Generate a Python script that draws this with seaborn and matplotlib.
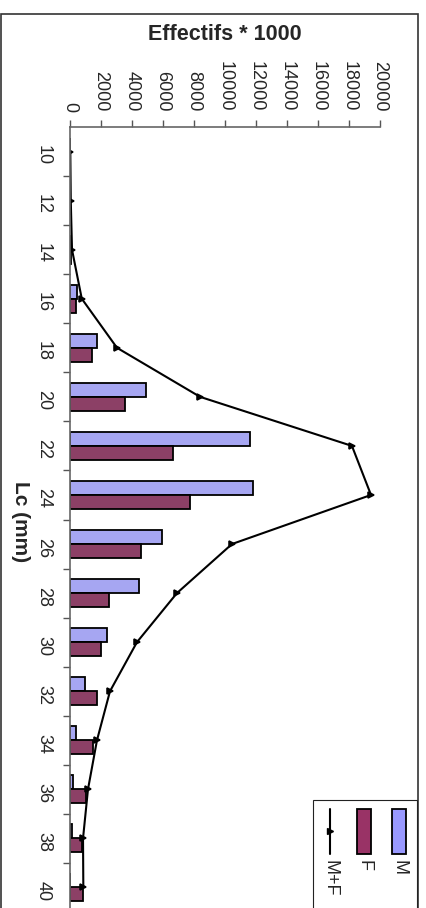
import matplotlib.pyplot as plt
import matplotlib.patches as mpatches
import matplotlib.lines as mlines
import numpy as np
import pandas as pd
import seaborn as sns

# Data (Lc classes in mm, counts * 1000)
sizes = ["10", "12", "14", "16", "18", "20", "22", "24", "26", "28", "30", "32", "34", "36", "38", "40"]
m_vals = [0, 0, 60, 450, 1740, 4900, 11600, 11800, 5940, 4450, 2390, 970, 390, 190, 130, 0]
f_vals = [0, 0, 60, 390, 1420, 3550, 6650, 7740, 4580, 2510, 2000, 1740, 1480, 1030, 775, 820]
mf_vals = [20, 50, 130, 760, 3030, 8390, 18190, 19420, 10450, 6900, 4320, 2580, 1740, 1160, 840, 860]
series = ["M", "F", "M+F"]
x_ticks = list(range(0, 20001, 2000))

colors = {"M": "#9999FF", "F": "#993366"}

df_bars = pd.DataFrame({
    "size": sizes * 2,
    "value": m_vals + f_vals,
    "sex": ["M"] * len(sizes) + ["F"] * len(sizes),
})
df_line = pd.DataFrame({"size": sizes, "value": mf_vals})

sns.set_theme(style="white")
plt.rcParams["font.family"] = ["Liberation Sans", "DejaVu Sans"]

W, H = 427, 908
fig = plt.figure(figsize=(W / 100, H / 100), dpi=100)
ax = fig.add_axes([70 / W, -4 / H, 310 / W, (908 - 127 + 4) / H])

# Bars (M above F inside each class)
sns.barplot(data=df_bars, x="value", y="size", hue="sex", order=sizes,
            hue_order=["M", "F"], palette=colors, orient="h", width=0.57,
            edgecolor="black", linewidth=1.3, legend=False, ax=ax)

# Total line
sns.pointplot(data=df_line, x="value", y="size", order=sizes, orient="h",
              color="black", marker=">", markersize=4, linewidth=1.5,
              errorbar=None, ax=ax)

ax.set_xlim(0, 20000)
ax.set_ylim(len(sizes) - 0.5, -0.5)
ax.set_xlabel("")
ax.set_ylabel("")

# Axis styling: value axis on top, labels rotated like the original
ax.xaxis.tick_top()
ax.set_xticks(x_ticks)
ax.set_xticklabels([str(t) for t in x_ticks])
ax.tick_params(axis="x", which="major", top=True, bottom=False, labeltop=True,
               labelbottom=False, length=5, width=1, color="#555555",
               direction="out", pad=6, labelsize=13, labelrotation=-90)

ax.set_yticks(range(len(sizes)))
ax.set_yticklabels(sizes)
ax.set_yticks(np.arange(0.5, len(sizes) - 0.5, 1), minor=True)
ax.tick_params(axis="y", which="major", left=True, length=0, pad=13,
               labelsize=13, labelrotation=-90)
ax.tick_params(axis="y", which="minor", left=True, length=5, width=1,
               color="#555555", direction="out")

for s in ["right", "bottom"]:
    ax.spines[s].set_visible(False)
for s in ["top", "left"]:
    ax.spines[s].set_color("#666666")
    ax.spines[s].set_linewidth(1.2)

# Titles
fig.text(225 / W, 1 - 34 / H, "Effectifs * 1000", ha="center", va="center",
         fontsize=15.5, fontweight="bold")
fig.text(20 / W, 1 - 522 / H, "Lc (mm)", ha="center", va="center",
         fontsize=15, fontweight="bold", rotation=-90)

# Outer chart border
fig.add_artist(mpatches.Rectangle((1.5 / W, -0.02), 417 / W, 1 - 14 / H + 0.02,
                                  transform=fig.transFigure, fill=False,
                                  ec="#333333", lw=1.2))

# Legend box (drawn by hand, rotated like the chart)
fig.add_artist(mpatches.Rectangle((313 / W, -0.02), 104 / W, (908 - 800) / H + 0.02,
                                  transform=fig.transFigure, fill=False,
                                  ec="#222222", lw=0.8))
for name, xc in zip(series[:2], [399, 364]):
    fig.add_artist(mpatches.Rectangle(((xc - 7) / W, 1 - 854 / H), 14 / W, 45 / H,
                                      transform=fig.transFigure,
                                      fc=colors[name], ec="black", lw=1.3))
    fig.text(xc / W, 1 - 860 / H, name, ha="center", va="top",
             fontsize=13, rotation=-90)
fig.add_artist(mlines.Line2D([330 / W, 330 / W], [1 - 809 / H, 1 - 854 / H],
                             transform=fig.transFigure, color="black", lw=1.5))
fig.add_artist(mlines.Line2D([330 / W], [1 - 831 / H], transform=fig.transFigure,
                             color="black", marker=">", markersize=4))
fig.text(330 / W, 1 - 860 / H, series[2], ha="center", va="top",
         fontsize=13, rotation=-90)

fig.savefig("out.png", dpi=100)
